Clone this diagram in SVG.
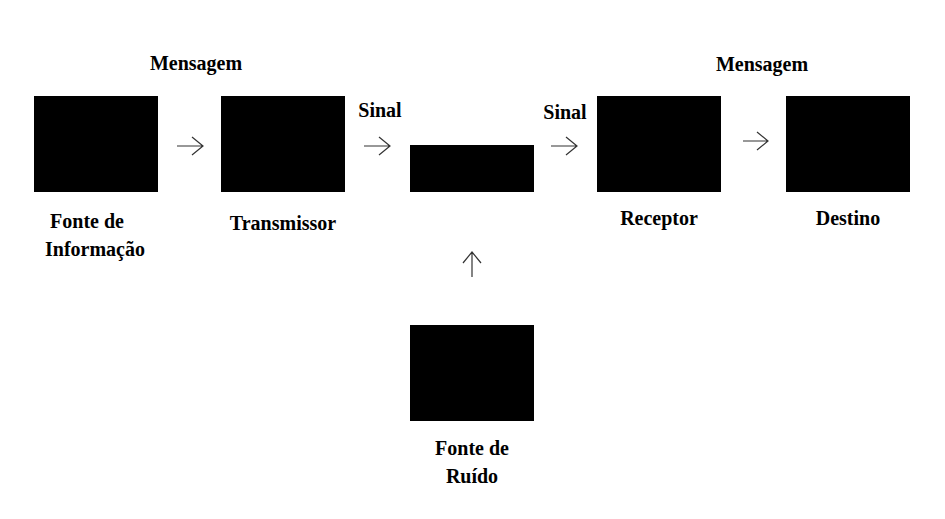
<svg xmlns="http://www.w3.org/2000/svg" width="945" height="519" viewBox="0 0 945 519">
<style>
.b{fill:#000}
.t{font-family:"Liberation Serif",serif;font-weight:bold;font-size:20px;text-anchor:middle;fill:#000}
.a{stroke:#333;stroke-width:1.2;fill:none}
</style>
<rect width="945" height="519" fill="#fff"/>
<g id="fonte"><rect class="b" x="34" y="96" width="124" height="96"/><text class="t" x="87" y="228">Fonte de</text><text class="t" x="95" y="256">Informação</text></g>
<g id="transmissor"><rect class="b" x="221" y="96" width="124" height="96"/><text class="t" x="283" y="230">Transmissor</text></g>
<g id="canal"><rect class="b" x="410" y="145" width="124" height="47"/></g>
<g id="receptor"><rect class="b" x="597" y="96" width="124" height="96"/><text class="t" x="659" y="225">Receptor</text></g>
<g id="destino"><rect class="b" x="786" y="96" width="124" height="96"/><text class="t" x="848" y="225">Destino</text></g>
<g id="ruido"><rect class="b" x="410" y="325" width="124" height="96"/><text class="t" x="472" y="455">Fonte de</text><text class="t" x="472" y="483">Ruído</text></g>
<g id="labels"><text class="t" x="196" y="70">Mensagem</text><text class="t" x="380" y="117">Sinal</text><text class="t" x="565" y="119">Sinal</text><text class="t" x="762" y="71">Mensagem</text></g>
<g id="connectors">
<path class="a" d="M177 146H203M192 137L203 146L192 155"/>
<path class="a" d="M364 146H390M379 137L390 146L379 155"/>
<path class="a" d="M551 146H577M566 137L577 146L566 155"/>
<path class="a" d="M743 141H768M757 132L768 141L757 150"/>
<path class="a" d="M472 277V252M463 263L472 252L481 263"/>
</g>
</svg>
